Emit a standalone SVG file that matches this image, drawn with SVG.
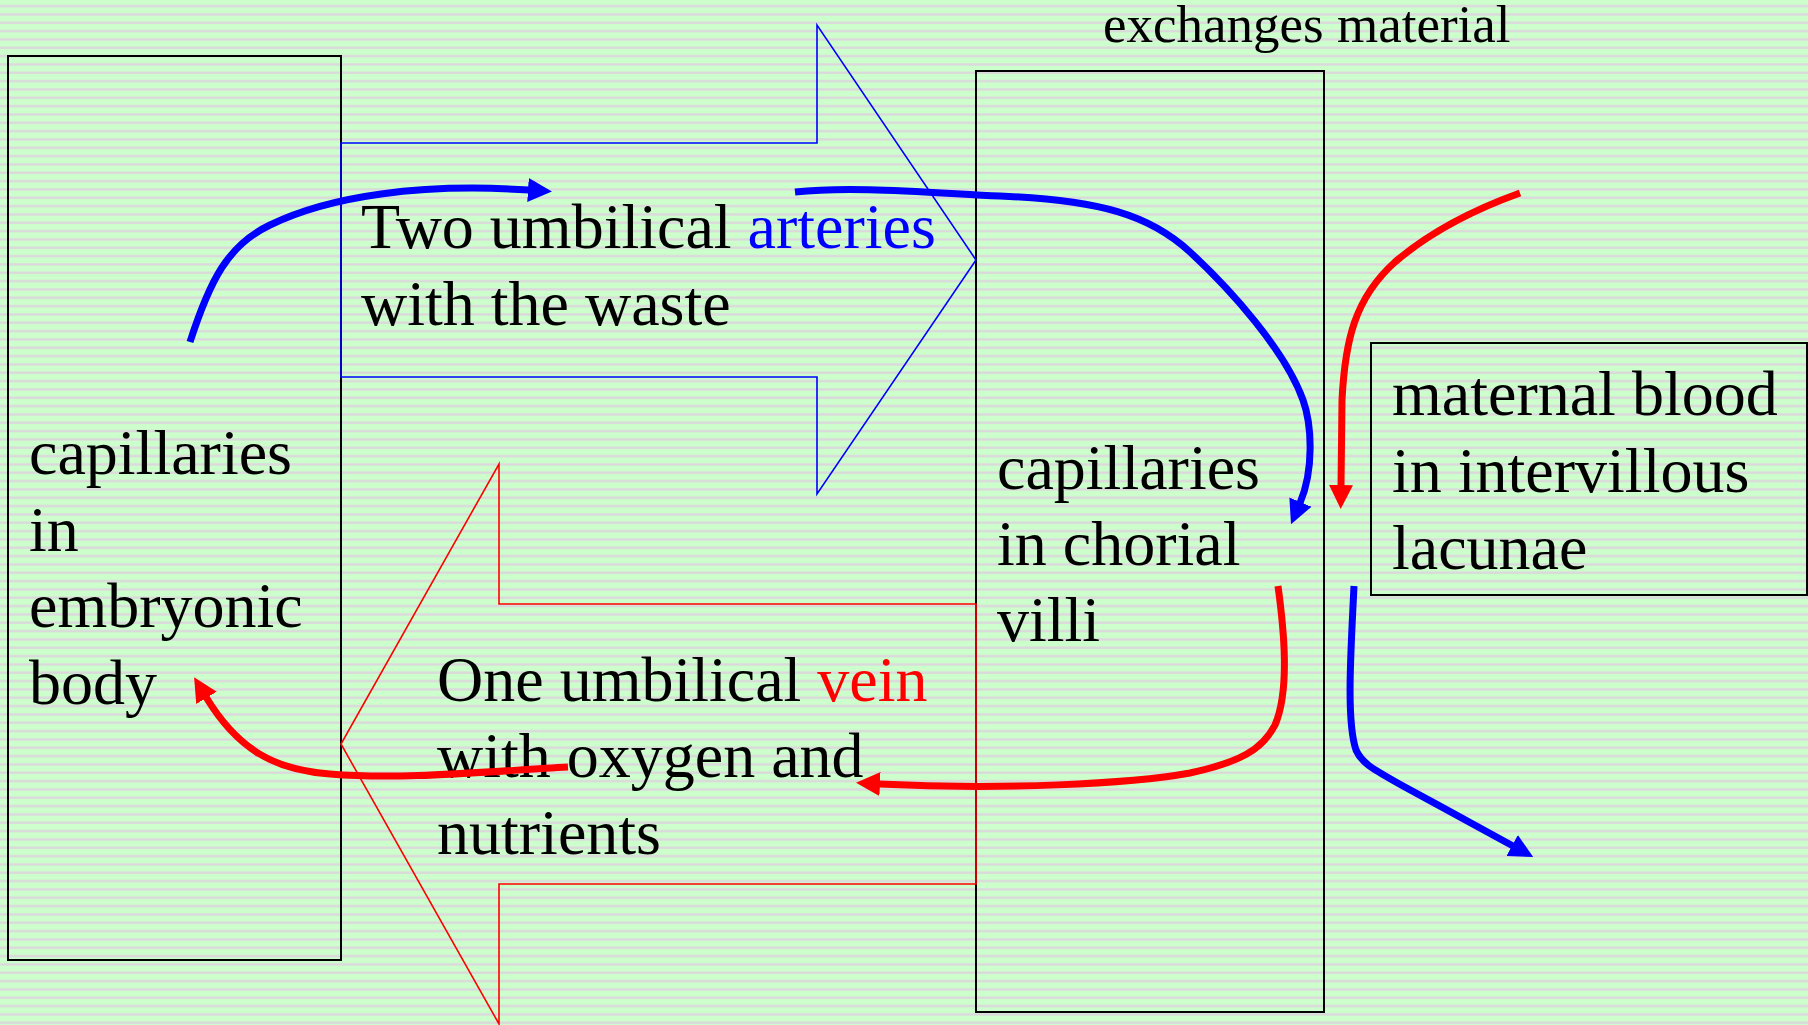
<svg xmlns="http://www.w3.org/2000/svg" width="1808" height="1025" viewBox="0 0 1808 1025">
<defs>
<pattern id="stripes" patternUnits="userSpaceOnUse" x="0" y="0" width="20" height="8.333">
<rect x="0" y="0" width="20" height="8.333" fill="#CCFFCC"/>
<rect x="0" y="4.9" width="20" height="2.4" fill="#DCD8DC"/>
</pattern>
<marker id="headBlue" markerUnits="userSpaceOnUse" viewBox="0 0 24 24" markerWidth="24" markerHeight="24" refX="1" refY="12" orient="auto">
<path d="M0,0 L24,12 L0,24 Z" fill="#0000FF"/>
</marker>
<marker id="headRed" markerUnits="userSpaceOnUse" viewBox="0 0 24 24" markerWidth="24" markerHeight="24" refX="1" refY="12" orient="auto">
<path d="M0,0 L24,12 L0,24 Z" fill="#FF0000"/>
</marker>
</defs>
<style>
.box{fill:none;stroke:#000000;stroke-width:2}
.t{font-family:"Liberation Serif","Times New Roman",serif;font-size:64px;fill:#000000}
.small{font-size:53px}
.outBlue{fill:none;stroke:#0000FF;stroke-width:1.6}
.outRed{fill:none;stroke:#FF0000;stroke-width:1.6}
.flowBlue{fill:none;stroke:#0000FF;stroke-width:7;marker-end:url(#headBlue)}
.flowRed{fill:none;stroke:#FF0000;stroke-width:7;marker-end:url(#headRed)}
.blue{fill:#0000FF}
.red{fill:#FF0000}
</style>
<rect x="0" y="0" width="1808" height="1025" fill="url(#stripes)"/>

<g id="embryo">
<rect class="box" x="8" y="56" width="333" height="904"/>
<text class="t" x="29"><tspan x="29" y="474">capillaries</tspan><tspan x="29" y="550.5">in</tspan><tspan x="29" y="627">embryonic</tspan><tspan x="29" y="703.5">body</tspan></text>
</g>

<g id="chorial">
<rect class="box" x="976" y="71" width="348" height="941"/>
<text class="t"><tspan x="997" y="489">capillaries</tspan><tspan x="997" y="565">in chorial</tspan><tspan x="997" y="641">villi</tspan></text>
</g>

<g id="maternal">
<rect class="box" x="1371" y="343" width="436" height="252"/>
<text class="t"><tspan x="1392" y="415">maternal blood</tspan><tspan x="1392" y="492">in intervillous</tspan><tspan x="1392" y="569">lacunae</tspan></text>
</g>

<g id="exchange-label">
<text class="t small" x="1103" y="42">exchanges material</text>
</g>

<g id="arteries">
<polygon class="outBlue" points="341,143 817,143 817,25 976,260 817,494 817,377 341,377"/>
<text class="t"><tspan x="361" y="248">Two umbilical <tspan class="blue">arteries</tspan></tspan><tspan x="361" y="325">with the waste</tspan></text>
</g>

<g id="vein">
<polygon class="outRed" points="976,604 499,604 499,464 341,744 499,1024 499,884 976,884"/>
<text class="t"><tspan x="437" y="701">One umbilical <tspan class="red">vein</tspan></tspan><tspan x="437" y="777">with oxygen and</tspan><tspan x="437" y="854">nutrients</tspan></text>
</g>

<g id="connectors">
<path class="flowBlue" d="M190,342 C210,280 228,245 270,225 C330,196 420,183 529,190"/>
<path class="flowBlue" d="M795,192 C850,186 920,192 1000,196 C1100,200 1150,215 1190,252 C1230,289 1285,350 1303,400 C1312,425 1314,470 1300,503"/>
<path class="flowRed" d="M1520,193 C1470,211 1430,232 1395,262 C1355,298 1345,340 1342,400 L1341,486"/>
<path class="flowRed" d="M1278,586 C1284,630 1290,690 1275,725 C1262,750 1240,762 1190,773 C1130,784 1000,790 879,784"/>
<path class="flowRed" d="M568,767 C480,772 400,780 330,774 C275,770 238,750 206,697"/>
<path class="flowBlue" d="M1354,586 C1351,650 1346,720 1356,750 C1362,764 1375,770 1403,786 C1440,806 1480,828 1513,846"/>
</g>
</svg>
